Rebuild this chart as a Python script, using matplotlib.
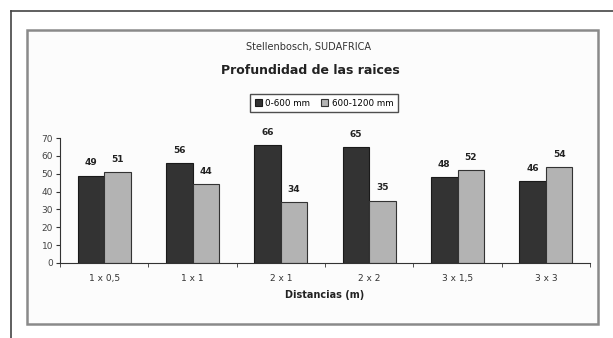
import matplotlib.pyplot as plt
import numpy as np
from matplotlib.patches import Rectangle
from matplotlib.lines import Line2D

# Datos
distancias = ['1 x 0,5', '1 x 1', '2 x 1', '2 x 2', '3 x 1,5', '3 x 3']
prof_0_600 = [49, 56, 66, 65, 48, 46]
prof_600_1200 = [51, 44, 34, 35, 52, 54]

W, H = 613, 338
fig = plt.figure(figsize=(W / 100, H / 100), dpi=100)
fig.patch.set_facecolor('white')

def fx(px):
    return px / W

def fy(py):
    return 1 - py / H

# Marco exterior (solo arriba e izquierda)
fig.add_artist(Line2D([fx(11), 1], [fy(11), fy(11)], color='#444444', lw=1.2, zorder=-2))
fig.add_artist(Line2D([fx(11), fx(11)], [fy(11), 0], color='#444444', lw=1.2, zorder=-2))

# Caja interior del grafico
fig.add_artist(Rectangle((fx(27), fy(324)), fx(598) - fx(27), fy(30) - fy(324),
                         facecolor='#fcfcfc', edgecolor='#8a8a8a', lw=1.8, zorder=-1))

# Ejes
ax = fig.add_axes([fx(60), fy(263), fx(590) - fx(60), fy(138) - fy(263)])
ax.set_facecolor('none')

x = np.arange(len(distancias))
ancho = 0.3
b1 = ax.bar(x - ancho / 2, prof_0_600, ancho, color='#333333', edgecolor='#1a1a1a', lw=0.8,
            label='0-600 mm')
b2 = ax.bar(x + ancho / 2, prof_600_1200, ancho, color='#b3b3b3', edgecolor='#333333', lw=0.8,
            label='600-1200 mm')

for barras in (b1, b2):
    for b in barras:
        ax.text(b.get_x() + b.get_width() / 2, b.get_height() + 4.5, str(int(b.get_height())),
                ha='center', va='bottom', fontsize=6.5, fontweight='bold', color='#222222')

ax.set_xlim(-0.5, len(distancias) - 0.5)
ax.set_ylim(0, 70)
ax.set_yticks(range(0, 71, 10))
ax.set_xticks(x)
ax.set_xticklabels(distancias)
ax.set_xticks(np.arange(-0.5, len(distancias), 1), minor=True)
ax.tick_params(axis='x', which='major', length=0, pad=8, labelsize=6.5, labelcolor='#333333')
ax.tick_params(axis='x', which='minor', length=3, direction='out', color='#333333')
ax.tick_params(axis='y', length=3, labelsize=6.5, labelcolor='#444444', color='#333333', pad=2)
for s in ['top', 'right']:
    ax.spines[s].set_visible(False)
ax.spines['left'].set_color('#333333')
ax.spines['bottom'].set_color('#333333')

ax.set_xlabel('Distancias (m)', fontsize=7, fontweight='bold', color='#222222', labelpad=5)

# Titulos
fig.text(fx(308), fy(47), 'Stellenbosch, SUDAFRICA', ha='center', va='center', fontsize=7,
         color='#333333')
fig.text(fx(310), fy(71), 'Profundidad de las raices', ha='center', va='center', fontsize=9,
         fontweight='bold', color='#222222')

leg = fig.legend(handles=[b1, b2], loc='center', bbox_to_anchor=(fx(324), fy(103)), ncol=2,
                 fontsize=6.3, frameon=True, fancybox=False, handlelength=0.8, handleheight=0.8,
                 handletextpad=0.4, columnspacing=1.3, borderpad=0.5)
leg.get_frame().set_edgecolor('#222222')
leg.get_frame().set_linewidth(1.0)

fig.savefig('out.png', dpi=100)
